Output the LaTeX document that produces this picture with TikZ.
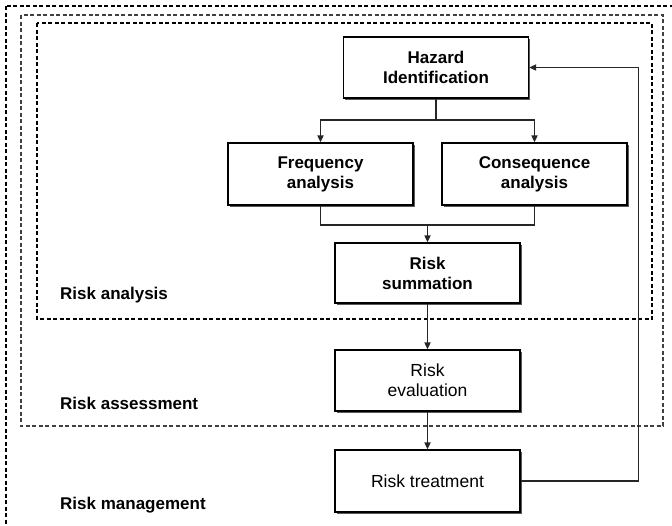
\documentclass[tikz,border=0pt]{standalone}
\usepackage{fontspec}
\setmainfont{Liberation Sans}
\usetikzlibrary{positioning,arrows.meta,shadows}

\begin{document}
\begin{tikzpicture}[x=1pt, y=-1pt,
  box/.style={draw, line width=1.2pt, fill=white, minimum width=185pt, minimum height=61pt,
    align=center, inner sep=0pt,
    drop shadow={shadow xshift=1.8pt, shadow yshift=-1.8pt, fill=black!65, opacity=1}},
  bold/.style={font=\fontsize{17}{20}\selectfont\bfseries},
  plain/.style={font=\fontsize{17.5}{20}\selectfont},
  zone/.style={dash pattern=on 4pt off 2.5pt, line width=1.5pt},
  lbl/.style={font=\fontsize{17}{20}\selectfont\bfseries, anchor=west, inner sep=0pt},
  link/.style={line width=1.6pt, black!85},
  >={Triangle[length=7pt, width=6pt]}]
  \useasboundingbox (0,0) rectangle (672,525);
  % nested zones
  \draw[zone] (6,6) rectangle (680,540);
  \draw[zone, line width=1.2pt, black!75] (21,15) rectangle (663,426);
  \draw[zone, line width=1.7pt] (37,23) rectangle (652,319);
  \node[lbl] (lana) at (60,295) {Risk analysis};
  \node[lbl] (lass) at (60,403) {Risk assessment};
  \node[lbl] (lman) at (60,505) {Risk management};
  % steps
  \node[box, bold] (haz) at (436,67.5) {Hazard\\Identification};
  \node[box, bold, minimum height=62pt] (freq) at (320.5,174) {Frequency\\analysis};
  \node[box, bold, minimum height=62pt] (cons) at (534.5,174) {Consequence\\analysis};
  \node[box, bold, minimum height=60pt] (summ) at (427.5,273) {Risk\\summation};
  \node[box, plain] (eval) at (427.5,380.5) {Risk\\evaluation};
  \node[box, plain, minimum height=62pt] (treat) at (427.5,481) {Risk treatment};
  \coordinate (split) at (436,120);
  \coordinate (join) at (427.5,225);
  % connectors
  \draw[link] (haz) -- (split);
  \draw[link, ->] (split) -| (freq.north);
  \draw[link, ->] (split) -| (cons.north);
  \draw[link] (freq.south) |- (join) -| (cons.south);
  \draw[link, ->] (join) -- (summ);
  \draw[link, ->] (summ) -- (eval);
  \draw[link, ->] (eval) -- (treat);
  \draw[link, ->] (treat.east) -- ++(118,0) |- (haz.east);
\end{tikzpicture}
\end{document}
